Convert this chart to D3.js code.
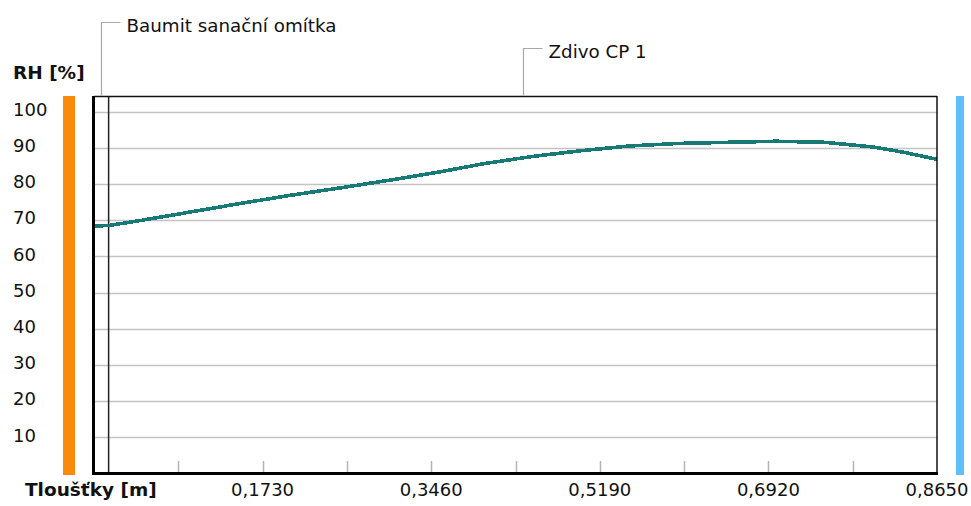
<!DOCTYPE html>
<html>
<head>
<meta charset="utf-8">
<script src="https://cdn.jsdelivr.net/npm/d3@7/dist/d3.min.js"></script>
<style>
  html, body { margin: 0; padding: 0; background: #ffffff; }
  svg { display: block; }
  text { font-family: "DejaVu Sans", sans-serif; fill: #111; }
</style>
</head>
<body>
<script>
// Relative humidity profile through the wall (plaster + masonry)
const thickness = [0, 0.015, 0.05, 0.10, 0.15, 0.20, 0.25, 0.30, 0.35, 0.40, 0.45, 0.50, 0.55, 0.60, 0.65, 0.70, 0.75, 0.80, 0.83, 0.865];
const rh        = [68.4, 68.5, 70.0, 72.3, 74.6, 76.8, 78.8, 80.9, 83.1, 85.6, 87.6, 89.2, 90.5, 91.2, 91.5, 91.8, 91.5, 90.2, 88.8, 86.8];

// Layers of the construction: [start, end] in metres
const layerNames  = ["Baumit sanační omítka", "Zdivo CP 1"];
const layerBounds = [[0, 0.015], [0.015, 0.865]];

const yTicks = [10, 20, 30, 40, 50, 60, 70, 80, 90, 100];
const xTickLabels = ["0,1730", "0,3460", "0,5190", "0,6920", "0,8650"];
const xTickValues = [0.173, 0.346, 0.519, 0.692, 0.865];
const xMinorTicks = [0.0865, 0.173, 0.2595, 0.346, 0.4325, 0.519, 0.6055, 0.692, 0.7785];

const W = 971, H = 506;
const svg = d3.select("body").append("svg").attr("width", W).attr("height", H);

const pLeft = 94, pRight = 937, pTop = 96, pBottom = 473.5;
const x = d3.scaleLinear().domain([0, 0.865]).range([pLeft, pRight]);
const y = d3.scaleLinear().domain([0, 104.3]).range([pBottom, pTop]);

// interior / exterior side bars
svg.append("rect").attr("x", 63).attr("y", pTop).attr("width", 12).attr("height", 475 - pTop).attr("fill", "#fb8a0a");
svg.append("rect").attr("x", 956).attr("y", pTop).attr("width", 8).attr("height", 475 - pTop).attr("fill", "#5ec0f7");

// horizontal grid
svg.append("g").selectAll("line").data(yTicks).join("line")
  .attr("x1", pLeft).attr("x2", pRight)
  .attr("y1", d => Math.round(y(d)) + 0.5).attr("y2", d => Math.round(y(d)) + 0.5)
  .attr("stroke", "#c4c4c4").attr("stroke-width", 1.5);

// y tick labels (left aligned)
svg.append("g").selectAll("text").data(yTicks).join("text")
  .attr("x", 13).attr("y", d => y(d) - 2).attr("dy", "0.35em")
  .attr("font-size", 18).text(d => d);

// minor ticks along the bottom
svg.append("g").selectAll("line").data(xMinorTicks).join("line")
  .attr("x1", d => Math.round(x(d)) + 0.5).attr("x2", d => Math.round(x(d)) + 0.5)
  .attr("y1", 461).attr("y2", 472)
  .attr("stroke", "#b4b4b4").attr("stroke-width", 1.5);

// x tick labels
svg.append("g").selectAll("text").data(xTickValues).join("text")
  .attr("x", d => x(d)).attr("y", 496).attr("text-anchor", "middle")
  .attr("font-size", 18).text((d, i) => xTickLabels[i]);

// layer boundary
svg.append("line")
  .attr("x1", x(layerBounds[0][1])).attr("x2", x(layerBounds[0][1]))
  .attr("y1", pTop).attr("y2", pBottom)
  .attr("stroke", "#222").attr("stroke-width", 1.5);

// humidity curve
const line = d3.line().x((d, i) => x(thickness[i])).y(d => y(d));
svg.append("path").datum(rh)
  .attr("d", line)
  .attr("fill", "none").attr("stroke", "#187a76").attr("stroke-width", 3.6)
  .attr("shape-rendering", "crispEdges");

// frame: thin top/right, thick left/bottom
svg.append("line").attr("x1", pLeft).attr("x2", pRight).attr("y1", 96.5).attr("y2", 96.5).attr("stroke", "#111").attr("stroke-width", 1.5);
svg.append("line").attr("x1", 937).attr("x2", 937).attr("y1", 96).attr("y2", 474).attr("stroke", "#111").attr("stroke-width", 1.5);
svg.append("line").attr("x1", 93.5).attr("x2", 93.5).attr("y1", 96).attr("y2", 475).attr("stroke", "#000").attr("stroke-width", 3);
svg.append("line").attr("x1", 92).attr("x2", 938).attr("y1", 473.5).attr("y2", 473.5).attr("stroke", "#000").attr("stroke-width", 3);

// layer name callouts
const calloutY = [22.5, 48.5];
const labelG = svg.append("g");
layerNames.forEach((name, i) => {
  const cx = Math.round(x((layerBounds[i][0] + layerBounds[i][1]) / 2)) + 0.5;
  labelG.append("path")
    .attr("d", `M${cx},${pTop} V${calloutY[i]} H${cx + 19}`)
    .attr("fill", "none").attr("stroke", "#a8a8a8").attr("stroke-width", 1.2);
  labelG.append("text").attr("x", cx + 25).attr("y", calloutY[i] + 9.5)
    .attr("font-size", 18.3).text(name);
});

// axis titles
svg.append("text").attr("x", 13).attr("y", 79).attr("font-size", 18.5).attr("font-weight", "bold").text("RH [%]");
svg.append("text").attr("x", 25).attr("y", 496).attr("font-size", 18.5).attr("font-weight", "bold").text("Tloušťky [m]");
</script>
</body>
</html>
